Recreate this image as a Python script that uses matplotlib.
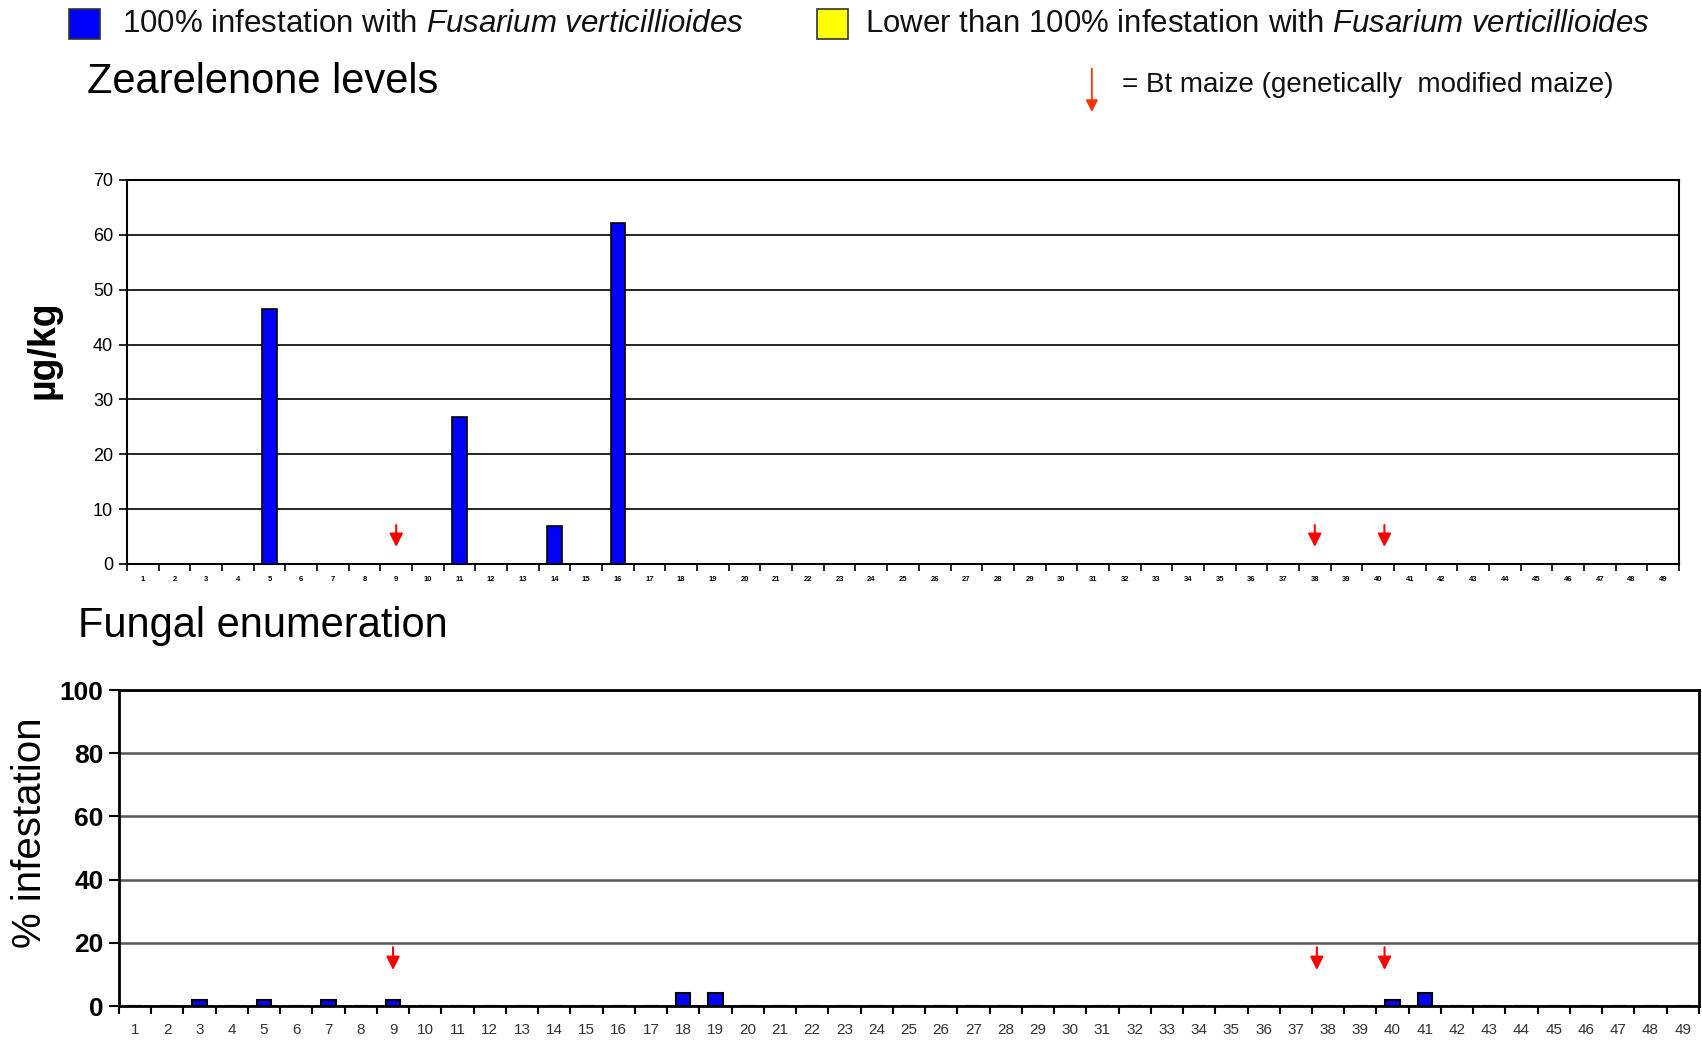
import numpy as np
import matplotlib.pyplot as plt
from matplotlib.patches import Rectangle, FancyArrowPatch

plt.rcParams['font.family'] = ['Liberation Sans', 'DejaVu Sans']
plt.rcParams['mathtext.fontset'] = 'custom'
plt.rcParams['mathtext.it'] = 'Liberation Sans:italic'
plt.rcParams['mathtext.rm'] = 'Liberation Sans'

samples = np.arange(1, 50)

# zearalenone (ug/kg), only non-zero samples listed
zea_samples = [5, 11, 14, 16]
zea_values = [46.5, 26.8, 7.0, 62.2]

# % infestation with F. verticillioides
inf_samples = [3, 5, 7, 9, 18, 19, 40, 41]
inf_values = [2, 2, 2, 2, 4, 4, 2, 4]

# Bt maize markers (arrow x positions per panel)
bt_top = [9, 38, 40.2]
bt_bottom = [9, 37.65, 39.75]

zea = np.zeros(len(samples))
for s, v in zip(zea_samples, zea_values):
    zea[s - 1] = v
inf = np.zeros(len(samples))
for s, v in zip(inf_samples, inf_values):
    inf[s - 1] = v

fig = plt.figure(figsize=(17.02, 10.45), dpi=100)
fig.patch.set_facecolor('white')

# legend row
fig.add_artist(Rectangle((0.0405, 0.963), 0.0185, 0.0285, transform=fig.transFigure,
                         facecolor='#0000FF', edgecolor='#333333', lw=1.2))
fig.text(0.0715, 0.977, r'100% infestation with $\it{Fusarium\ verticillioides}$',
         fontsize=22.5, va='center', ha='left', color='#111111')
fig.add_artist(Rectangle((0.480, 0.963), 0.0185, 0.0285, transform=fig.transFigure,
                         facecolor='#FFFF00', edgecolor='#333333', lw=1.2))
fig.text(0.508, 0.977, r'Lower than 100% infestation with $\it{Fusarium\ verticillioides}$',
         fontsize=22.5, va='center', ha='left', color='#111111')

fig.add_artist(FancyArrowPatch((0.6415, 0.937), (0.6415, 0.890), transform=fig.transFigure,
                               arrowstyle='-|>', mutation_scale=18, color='#FF3300', lw=1.3))
fig.text(0.659, 0.919, '= Bt maize (genetically  modified maize)', fontsize=20,
         va='center', ha='left', color='#111111')

fig.text(0.051, 0.922, 'Zearelenone levels', fontsize=30, va='center', ha='left')
fig.text(0.046, 0.401, 'Fungal enumeration', fontsize=30, va='center', ha='left')

# top panel
ax1 = fig.add_axes([0.0746, 0.4603, 0.9119, 0.3675])
ax1.bar(samples, zea, width=0.45, color='#0000FF', edgecolor='black', lw=1.2, zorder=3)
ax1.set_xlim(0.5, 49.5)
ax1.set_ylim(0, 70)
ax1.set_yticks(np.arange(0, 71, 10))
ax1.yaxis.grid(True, color='black', lw=1.2, zorder=0)
ax1.set_xticks(samples)
ax1.set_xticklabels([str(s) for s in samples], fontsize=5.5, fontweight='bold')
ax1.set_xticks(np.arange(0.5, 50.5, 1), minor=True)
ax1.tick_params(axis='x', which='major', length=0, pad=9)
ax1.tick_params(axis='x', which='minor', length=5, width=1.2, direction='out')
ax1.tick_params(axis='y', length=6, width=1.2, labelsize=13, pad=4)
for sp in ax1.spines.values():
    sp.set_linewidth(1.5)
fig.text(0.0255, 0.6656, 'µg/kg', fontsize=27, fontweight='bold', rotation=90,
         ha='center', va='center')
for x in bt_top:
    ax1.annotate('', xy=(x, 2.6), xytext=(x, 7.6),
                 arrowprops=dict(arrowstyle='-|>', color='red', lw=1.5, mutation_scale=20),
                 zorder=4)

# bottom panel
ax2 = fig.add_axes([0.0699, 0.0373, 0.9283, 0.3024])
ax2.bar(samples, inf, width=0.45, color='#0000FF', edgecolor='black', lw=1.5, zorder=3)
ax2.set_xlim(0.5, 49.5)
ax2.set_ylim(0, 100)
ax2.set_yticks(np.arange(0, 101, 20))
ax2.yaxis.grid(True, color='#555555', lw=1.8, zorder=0)
ax2.set_xticks(samples)
ax2.set_xticklabels([str(s) for s in samples], fontsize=11, color='#333333')
ax2.set_xticks(np.arange(0.5, 50.5, 1), minor=True)
ax2.tick_params(axis='x', which='major', length=0, pad=12)
ax2.tick_params(axis='x', which='minor', length=6, width=1.5, direction='out')
ax2.tick_params(axis='y', length=7, width=1.5, labelsize=19, pad=4)
for lbl in ax2.get_yticklabels():
    lbl.set_fontweight('bold')
for sp in ax2.spines.values():
    sp.set_linewidth(2)
fig.text(0.0179, 0.2033, '% infestation', fontsize=29, rotation=90,
         ha='center', va='center')
for x in bt_bottom:
    ax2.annotate('', xy=(x, 10.5), xytext=(x, 19.5),
                 arrowprops=dict(arrowstyle='-|>', color='red', lw=1.5, mutation_scale=20),
                 zorder=4)

fig.savefig('out.png', dpi=100)
